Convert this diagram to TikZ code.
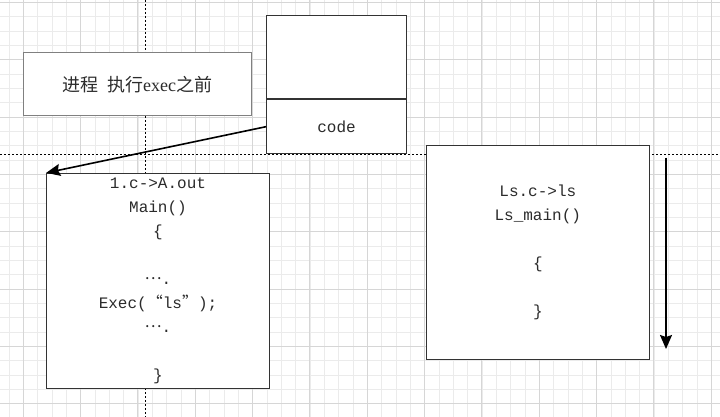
\documentclass[tikz,border=0pt]{standalone}
\usepackage{fontspec}
\setmainfont{Liberation Serif}
\setmonofont{Liberation Mono}
\newfontfamily\cjk{Noto Sans CJK SC}
\usetikzlibrary{positioning, arrows.meta}
\definecolor{gridminor}{HTML}{EBEBEB}
\definecolor{gridmajor}{HTML}{D6D6D6}
\definecolor{boxline}{HTML}{333333}
\definecolor{codetext}{HTML}{2B2B2B}

\begin{document}
\begin{tikzpicture}[
  x=1pt, y=-1pt,
  gridMinor/.style={draw=gridminor, line width=0.8pt},
  gridMajor/.style={draw=gridmajor, line width=0.9pt},
  guideLine/.style={draw=black, line width=0.8pt, dash pattern=on 2pt off 2pt},
  labelBox/.style={draw=gray, line width=1pt, fill=white, inner sep=0pt, align=center, text=codetext, font=\fontsize{18}{22}\selectfont},
  codeBox/.style={draw=boxline, line width=1pt, fill=white, inner sep=0pt, align=center, text=codetext, font=\ttfamily\fontsize{16}{24}\selectfont},
  arrow/.style={-{Stealth[length=14pt, width=12pt, inset=2pt]}, line width=1.6pt, draw=black}
]
\useasboundingbox (0,0) rectangle (720,417);

% Background grid
\begin{scope}
  \clip (0,0) rectangle (720,417);
  \foreach \i in {0,...,50} \draw[gridMinor] (9+14.333*\i,0) -- ++(0,417);
  \foreach \j in {0,...,29} \draw[gridMinor] (0,2.3+14.333*\j) -- ++(720,0);
  \foreach \i in {-1,...,11} \draw[gridMajor] (80.3+57.333*\i,0) -- ++(0,417);
  \foreach \j in {0,...,7} \draw[gridMajor] (0,2.3+57.333*\j) -- ++(720,0);
\end{scope}

% Guide lines
\draw[guideLine] (145.3,0) -- (145.3,417);
\draw[guideLine] (0,154.3) -- (720,154.3);

% Process before exec
\node[labelBox, minimum width=228.4pt, minimum height=63pt] (before) at (137.5,84.2)
  {\cjk 进程\ \ 执行{\rmfamily exec}之前};

\node[codeBox, minimum width=139.6pt, minimum height=83pt] (mem) at (336.5,57.5) {};
\node[codeBox, minimum width=139.6pt, minimum height=53.3pt, below=0pt of mem] (code) {code};

% Program images
\node[codeBox, minimum width=222.6pt, minimum height=214.7pt] (aout) at (158,280.7)
  {1.c->A.out\\Main()\\\{\\[24pt]\raisebox{0.3em}{\cjk …}.\\Exec({\cjk “}ls{\cjk ”});\\\raisebox{0.3em}{\cjk …}.\\[24pt]\}};
\node[codeBox, minimum width=223pt, minimum height=214pt] (lsprog) at (537.8,252.3)
  {Ls.c->ls\\Ls\_main()\\[24pt]\{\\[24pt]\}};

% Connectors
\coordinate (flowTop) at (666,157.7);
\coordinate (flowEnd) at (666,349);
\draw[arrow] (code.west) -- (aout.north west);
\draw[arrow] (flowTop) -- (flowEnd);

\end{tikzpicture}
\end{document}
